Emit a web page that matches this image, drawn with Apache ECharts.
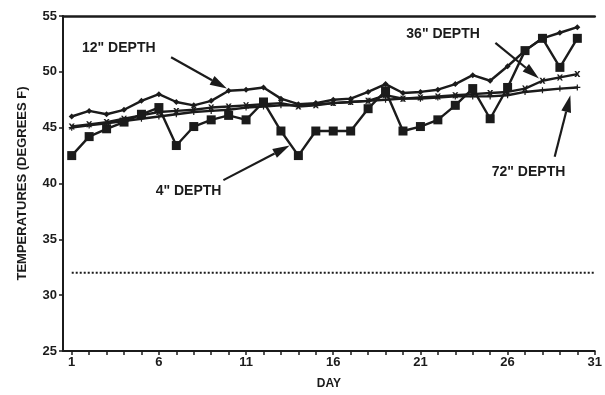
<!DOCTYPE html>
<html><head><meta charset="utf-8">
<script src="https://cdn.jsdelivr.net/npm/echarts@6/dist/echarts.min.js"></script>
<style>html,body{margin:0;padding:0;background:#fff}#c{width:605px;height:395px}</style>
</head><body><div id="c"></div>
<script>
// ---- data ----
const DAYS = [1,2,3,4,5,6,7,8,9,10,11,12,13,14,15,16,17,18,19,20,21,22,23,24,25,26,27,28,29,30];
const TEMP_4IN  = [42.5,44.2,44.9,45.5,46.2,46.8,43.4,45.1,45.7,46.1,45.7,47.3,44.7,42.5,44.7,44.7,44.7,46.7,48.3,44.7,45.1,45.7,47.0,48.5,45.8,48.6,51.9,53.0,50.4,53.0];
const TEMP_12IN = [46.0,46.5,46.2,46.6,47.4,48.0,47.3,47.0,47.4,48.3,48.4,48.6,47.6,47.1,47.2,47.5,47.6,48.2,48.9,48.1,48.2,48.4,48.9,49.7,49.2,50.5,51.9,53.0,53.5,54.0];
const TEMP_36IN = [45.1,45.3,45.5,45.8,46.1,46.4,46.5,46.6,46.8,46.9,47.0,47.1,47.2,46.9,47.0,47.2,47.3,47.4,47.9,47.6,47.7,47.8,47.9,48.0,48.1,48.2,48.5,49.2,49.5,49.8];
const TEMP_72IN = [45.0,45.2,45.4,45.6,45.8,46.0,46.2,46.4,46.5,46.6,46.8,46.9,47.0,47.0,47.1,47.2,47.3,47.4,47.5,47.6,47.6,47.7,47.8,47.8,47.8,47.9,48.2,48.35,48.5,48.6];
const FREEZING = 32;
const FREEZE_RANGE = [1, 31];
const X_TICKS = [1,2,3,4,5,6,7,8,9,10,11,12,13,14,15,16,17,18,19,20,21,22,23,24,25,26,27,28,29,30,31];
const X_LABELS = [1,6,11,16,21,26,31];
const LABEL_4 = '4" DEPTH', LABEL_12 = '12" DEPTH', LABEL_36 = '36" DEPTH', LABEL_72 = '72" DEPTH';
// annotation anchors in data coordinates: text centre, arrow start, arrow tip
const ANNOTATIONS = [
  {text: LABEL_12, at: [3.7, 52.1], from: [6.7, 51.3], to: [9.9, 48.5]},
  {text: LABEL_4,  at: [7.7, 39.3], from: [9.7, 40.3], to: [13.5, 43.4]},
  {text: LABEL_36, at: [22.3, 53.4], from: [25.3, 52.6], to: [27.8, 49.4]},
  {text: LABEL_72, at: [27.2, 41.0], from: [28.7, 42.4], to: [29.6, 47.9]}
];

const INK = '#1b1b1b';
const FONT = '"Liberation Sans", Arial, sans-serif';
const pairs = arr => DAYS.map((d, i) => [d, arr[i]]);
const X_SYM = 'path://M0,0L3,0L5,3L7,0L10,0L6.5,5L10,10L7,10L5,7L3,10L0,10L3.5,5Z';
const PLUS_SYM = 'path://M4,0L6,0L6,4L10,4L10,6L6,6L6,10L4,10L4,6L0,6L0,4L4,4Z';

const chart = echarts.init(document.getElementById('c'));
const lineSeries = (name, arr, symbol, size) => ({
  name, type: 'line', data: pairs(arr), symbol, symbolSize: size,
  showSymbol: true, lineStyle: {color: INK, width: 2.4}, itemStyle: {color: INK},
  z: 3
});
chart.setOption({
  animation: false,
  backgroundColor: '#fff',
  grid: {left: 63, right: 2, top: 16, bottom: 43},
  xAxis: [{
    type: 'value', min: 0.5, max: 31,
    axisLine: {onZero: false, lineStyle: {color: INK, width: 2}},
    axisTick: {customValues: X_TICKS, length: 4, lineStyle: {color: INK, width: 1.5}},
    axisLabel: {customValues: X_LABELS, color: INK, fontFamily: FONT, fontWeight: 'bold', fontSize: 13, margin: 5},
    splitLine: {show: false},
    name: 'DAY', nameLocation: 'middle', nameGap: 27,
    nameTextStyle: {color: INK, fontFamily: FONT, fontWeight: 'bold', fontSize: 12}
  }, {
    type: 'value', min: 0.5, max: 31, position: 'top',
    axisLine: {show: true, onZero: false, lineStyle: {color: INK, width: 2.5}},
    axisTick: {show: false}, axisLabel: {show: false}, splitLine: {show: false}
  }],
  yAxis: {
    type: 'value', min: 25, max: 55, interval: 5,
    axisLine: {show: true, onZero: false, lineStyle: {color: INK, width: 2}},
    axisTick: {show: true, length: 4, lineStyle: {color: INK, width: 1.5}},
    axisLabel: {color: INK, fontFamily: FONT, fontWeight: 'bold', fontSize: 13, margin: 6},
    splitLine: {show: false},
    name: 'TEMPERATURES (DEGREES F)', nameLocation: 'middle', nameGap: 34,
    nameTextStyle: {color: INK, fontFamily: FONT, fontWeight: 'bold', fontSize: 13}
  },
  series: [
    {name: 'freezing', type: 'line', data: FREEZE_RANGE.map(d => [d, FREEZING]), symbol: 'none',
     lineStyle: {color: INK, width: 2, type: [2, 2]}},
    lineSeries(LABEL_72, TEMP_72IN, PLUS_SYM, 6),
    lineSeries(LABEL_36, TEMP_36IN, X_SYM, 6),
    lineSeries(LABEL_12, TEMP_12IN, 'diamond', 6),
    lineSeries(LABEL_4, TEMP_4IN, 'rect', 9)
  ]
});

function arrow(p1, p2) {
  const dx = p2[0] - p1[0], dy = p2[1] - p1[1];
  const L = Math.hypot(dx, dy), ux = dx / L, uy = dy / L;
  const head = 17, hw = 5;
  const bx = p2[0] - ux * head, by = p2[1] - uy * head;
  return [
    {type: 'line', shape: {x1: p1[0], y1: p1[1], x2: bx, y2: by}, style: {stroke: INK, lineWidth: 2.2}, z: 10},
    {type: 'polygon', shape: {points: [[p2[0], p2[1]], [bx - uy * hw, by + ux * hw], [bx + uy * hw, by - ux * hw]]},
     style: {fill: INK}, z: 10}
  ];
}
const graphics = [];
ANNOTATIONS.forEach(a => {
  const c = chart.convertToPixel({gridIndex: 0}, a.at);
  graphics.push({type: 'text', x: c[0], y: c[1], z: 10,
    style: {text: a.text, fill: INK, font: 'bold 14px ' + FONT, align: 'center', verticalAlign: 'middle'}});
  arrow(chart.convertToPixel({gridIndex: 0}, a.from), chart.convertToPixel({gridIndex: 0}, a.to)).forEach(g => graphics.push(g));
});
chart.setOption({graphic: graphics});
</script></body></html>
